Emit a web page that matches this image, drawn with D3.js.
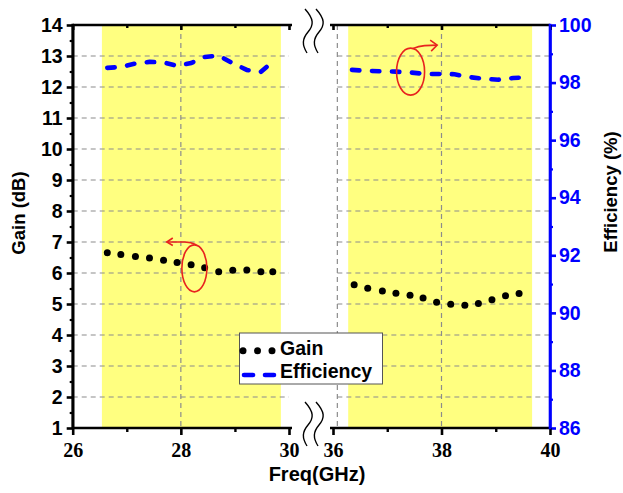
<!DOCTYPE html>
<html>
<head>
<meta charset="utf-8">
<script src="https://cdn.jsdelivr.net/npm/d3@7"></script>
<style>
  body { margin: 0; background: #fff; }
  svg { display: block; }
</style>
</head>
<body>
<svg id="chart" width="623" height="493"></svg>
<script>
// ---- data ----------------------------------------------------------
// Ka-band segment (26-30 GHz)
const freqLow  = [26.64, 26.89, 27.16, 27.42, 27.68, 27.93, 28.19, 28.44, 28.70, 28.96, 29.22, 29.48, 29.70];
const gainLow  = [6.65, 6.60, 6.53, 6.48, 6.41, 6.34, 6.27, 6.17, 6.04, 6.09, 6.10, 6.04, 6.04];
const effLow   = [98.51, 98.54, 98.66, 98.72, 98.70, 98.58, 98.68, 98.89, 98.94, 98.67, 98.44, 98.37, 98.73];

// 36-40 GHz segment
const freqHigh    = [36.39, 36.64, 36.91, 37.16, 37.42, 37.66, 37.91, 38.17, 38.43, 38.68, 38.93, 39.18, 39.43];
const gainHigh    = [5.62, 5.51, 5.42, 5.35, 5.28, 5.19, 5.06, 4.99, 4.96, 5.02, 5.14, 5.27, 5.34];
const effFreqHigh = [36.35, 36.62, 36.89, 37.16, 37.43, 37.70, 37.97, 38.24, 38.51, 38.78, 39.05, 39.32, 39.59];
const effHigh     = [98.44, 98.41, 98.39, 98.38, 98.35, 98.30, 98.30, 98.29, 98.19, 98.13, 98.10, 98.16, 98.18];

// operating bands (shaded)
const bandLow  = [26.54, 29.85];
const bandHigh = [36.28, 39.67];

// ticks
const gainTicks      = [1, 2, 3, 4, 5, 6, 7, 8, 9, 10, 11, 12, 13, 14];
const gainMinorTicks = [1.5, 2.5, 3.5, 4.5, 5.5, 6.5, 7.5, 8.5, 9.5, 10.5, 11.5, 12.5, 13.5];
const gainGrid       = [2, 3, 4, 5, 6, 7, 8, 9, 10, 11, 12, 13];
const effTicks       = [86, 88, 90, 92, 94, 96, 98, 100];
const effMinorTicks  = [87, 89, 91, 93, 95, 97, 99];
const freqTicksLow   = [26, 28, 30];
const freqMinorLow   = [27, 29];
const freqTicksHigh  = [36, 38, 40];
const freqMinorHigh  = [37, 39];
const freqGridLow    = [28];
const freqGridHigh   = [36.08, 38];

// ---- layout --------------------------------------------------------
const svg = d3.select("#chart");
const plotTop = 25, plotBottom = 428;
const xLow  = d3.scaleLinear([26, 30], [72.7, 289]);
const xHigh = d3.scaleLinear([36, 40], [333, 550]);
const yGain = d3.scaleLinear([1, 14], [plotBottom, plotTop]);
const yEff  = d3.scaleLinear([86, 100], [plotBottom, plotTop]);

const SANS = "'Liberation Sans', Arial, sans-serif";
const SERIF = "'Liberation Serif', 'Times New Roman', 'DejaVu Serif', serif";
const BLUE = "#0000ff";
const YELLOW = "#ffff80";
const RED = "#e8231f";

function font(sel, family, size, color) {
  sel.style("font-family", family).style("font-weight", "bold")
     .style("font-size", size + "px").style("fill", color);
}

svg.append("rect").attr("width", 623).attr("height", 493).attr("fill", "#fff");

// shaded bands
[[xLow, bandLow], [xHigh, bandHigh]].forEach(([x, b]) => {
  svg.append("rect")
    .attr("x", x(b[0])).attr("y", plotTop)
    .attr("width", x(b[1]) - x(b[0])).attr("height", plotBottom - plotTop)
    .attr("fill", YELLOW);
});

// grid
const grid = svg.append("g")
  .attr("stroke", "#8c8c8c").attr("stroke-width", 1.2)
  .attr("stroke-dasharray", "5,4").attr("fill", "none");
[[xLow, [26, 30], freqGridLow], [xHigh, [36.08, 40], freqGridHigh]].forEach(([x, dom, vg]) => {
  gainGrid.forEach(g => {
    grid.append("line")
      .attr("x1", x(dom[0])).attr("x2", x(dom[1]))
      .attr("y1", yGain(g)).attr("y2", yGain(g));
  });
  vg.forEach(f => {
    grid.append("line")
      .attr("x1", x(f)).attr("x2", x(f))
      .attr("y1", plotTop).attr("y2", plotBottom);
  });
});

// efficiency curves (dashed)
const effLine = (x) => d3.line().x(d => x(d[0])).y(d => yEff(d[1]));
[[xLow, freqLow, effLow], [xHigh, effFreqHigh, effHigh]].forEach(([x, f, e]) => {
  svg.append("path")
    .datum(f.map((v, i) => [v, e[i]]))
    .attr("d", effLine(x))
    .attr("fill", "none").attr("stroke", BLUE)
    .attr("stroke-width", 4.6).attr("stroke-linecap", "round")
    .attr("stroke-dasharray", "7.4,12.6");
});

// gain points
[[xLow, freqLow, gainLow], [xHigh, freqHigh, gainHigh]].forEach(([x, f, g]) => {
  svg.append("g").selectAll("circle")
    .data(f.map((v, i) => [v, g[i]]))
    .join("circle")
    .attr("cx", d => x(d[0])).attr("cy", d => yGain(d[1]))
    .attr("r", 3.5).attr("fill", "#000");
});

// ---- axes ----------------------------------------------------------
function styleAxis(g, color, width) {
  g.select(".domain").attr("stroke", color).attr("stroke-width", width);
  g.selectAll(".tick line").attr("stroke", color).attr("stroke-width", width);
}

// left gain axis
const leftAxis = svg.append("g").attr("transform", `translate(${xLow(26)},0)`)
  .call(d3.axisLeft(yGain).tickValues(gainTicks).tickSize(6).tickSizeOuter(0).tickPadding(4).tickFormat(d3.format("d")));
styleAxis(leftAxis, "#000", 2.6);
font(leftAxis.selectAll("text"), SANS, 19.5, "#000");
const leftMinor = svg.append("g").attr("transform", `translate(${xLow(26)},0)`)
  .call(d3.axisLeft(yGain).tickValues(gainMinorTicks).tickSize(3).tickSizeOuter(0).tickFormat(""));
leftMinor.select(".domain").remove();
leftMinor.selectAll(".tick line").attr("stroke", "#000").attr("stroke-width", 2.2);

// right efficiency axis
const rightAxis = svg.append("g").attr("transform", `translate(${xHigh(40)},0)`)
  .call(d3.axisRight(yEff).tickValues(effTicks).tickSize(6).tickSizeOuter(0).tickPadding(3).tickFormat(d3.format("d")));
styleAxis(rightAxis, BLUE, 2.6);
font(rightAxis.selectAll("text"), SANS, 19.5, BLUE);
const rightMinor = svg.append("g").attr("transform", `translate(${xHigh(40)},0)`)
  .call(d3.axisRight(yEff).tickValues(effMinorTicks).tickSize(3).tickSizeOuter(0).tickFormat(""));
rightMinor.select(".domain").remove();
rightMinor.selectAll(".tick line").attr("stroke", BLUE).attr("stroke-width", 2.2);

// bottom and top frequency axes for each segment
[[xLow, freqTicksLow, freqMinorLow], [xHigh, freqTicksHigh, freqMinorHigh]].forEach(([x, major, minor]) => {
  const [r0, r1] = x.range();
  // bottom
  const b = svg.append("g").attr("transform", `translate(0,${plotBottom})`)
    .call(d3.axisBottom(x).tickValues(major).tickSize(7).tickSizeOuter(0).tickPadding(8).tickFormat(d3.format("d")));
  b.select(".domain").remove();
  b.selectAll(".tick line").attr("stroke", "#000").attr("stroke-width", 2.6);
  font(b.selectAll("text"), SERIF, 20, "#000");
  const bm = svg.append("g").attr("transform", `translate(0,${plotBottom})`)
    .call(d3.axisBottom(x).tickValues(minor).tickSize(4).tickSizeOuter(0).tickFormat(""));
  bm.select(".domain").remove();
  bm.selectAll(".tick line").attr("stroke", "#000").attr("stroke-width", 2.4);
  // top (ticks pointing into the plot)
  const t = svg.append("g").attr("transform", `translate(0,${plotTop})`)
    .call(d3.axisBottom(x).tickValues(major).tickSize(5).tickSizeOuter(0).tickFormat(""));
  t.select(".domain").remove();
  t.selectAll(".tick line").attr("stroke", "#000").attr("stroke-width", 2.6);
  const tm = svg.append("g").attr("transform", `translate(0,${plotTop})`)
    .call(d3.axisBottom(x).tickValues(minor).tickSize(3).tickSizeOuter(0).tickFormat(""));
  tm.select(".domain").remove();
  tm.selectAll(".tick line").attr("stroke", "#000").attr("stroke-width", 2.4);
  // frame lines
  const ext0 = x === xLow ? r0 : r0 - 3;
  const ext1 = x === xLow ? r1 + 3 : r1;
  [plotTop, plotBottom].forEach(yy => {
    svg.append("line").attr("x1", ext0).attr("x2", ext1).attr("y1", yy).attr("y2", yy)
      .attr("stroke", "#000").attr("stroke-width", 2.6);
  });
});

// redraw axis spines on top of frame
svg.append("line").attr("x1", xLow(26)).attr("x2", xLow(26))
  .attr("y1", plotTop - 1.3).attr("y2", plotBottom + 1.3).attr("stroke", "#000").attr("stroke-width", 2.6);
svg.append("line").attr("x1", xHigh(40)).attr("x2", xHigh(40))
  .attr("y1", plotTop - 1.3).attr("y2", plotBottom + 1.3).attr("stroke", BLUE).attr("stroke-width", 2.6);

// axis break marks
const midGap = (xLow(30) + xHigh(36)) / 2;
function breakMark(x0, y0) {
  return `M${x0},${y0} C${x0 + 9},${y0 + 10} ${x0 + 9},${y0 + 16} ${x0 + 3},${y0 + 23}` +
         ` S${x0 - 3},${y0 + 36} ${x0 + 2},${y0 + 44}`;
}
[plotTop - 16, plotBottom - 26].forEach(y0 => {
  [-6, 5].forEach(dx => {
    svg.append("path").attr("d", breakMark(midGap + dx, y0))
      .attr("fill", "none").attr("stroke", "#000").attr("stroke-width", 1.4);
  });
});

// axis titles
font(svg.append("text")
  .attr("transform", `translate(24.5,${213}) rotate(-90)`)
  .attr("text-anchor", "middle").text("Gain (dB)"), SANS, 18.5, "#000");
font(svg.append("text")
  .attr("transform", `translate(617,${192}) rotate(-90)`)
  .attr("text-anchor", "middle").text("Efficiency (%)"), SANS, 18.5, "#000");
font(svg.append("text")
  .attr("x", 317).attr("y", 481)
  .attr("text-anchor", "middle").text("Freq(GHz)"), SANS, 20, "#000");

// ---- annotations (ellipse + arrow pointing to the relevant axis) -----
const ann = svg.append("g").attr("fill", "none").attr("stroke", RED).attr("stroke-width", 1.6);
// gain -> left axis
{
  const cx = xLow(28.25), cy = yGain(6.15);
  ann.append("ellipse").attr("cx", cx).attr("cy", cy).attr("rx", 12.5).attr("ry", 23.5);
  const tipX = xLow(27.74), tipY = yGain(7.0);
  ann.append("path")
    .attr("d", `M${cx + 2},${cy - 23.5} Q${cx - 4},${tipY - 0.5} ${cx - 12},${tipY} L${tipX},${tipY}`);
  ann.append("path")
    .attr("d", `M${tipX + 6},${tipY - 4} L${tipX},${tipY} L${tipX + 6},${tipY + 3.5}`);
}
// efficiency -> right axis
{
  const cx = xHigh(37.43), cy = yEff(98.38);
  ann.append("ellipse").attr("cx", cx).attr("cy", cy).attr("rx", 14).attr("ry", 23.5);
  const tipX = xHigh(37.92), tipY = yEff(99.3);
  ann.append("path")
    .attr("d", `M${cx + 2},${cy - 23} Q${cx + 8},${tipY + 1} ${cx + 14},${tipY + 0.5} L${tipX},${tipY}`);
  ann.append("path")
    .attr("d", `M${tipX - 7},${tipY - 5} L${tipX},${tipY} L${tipX - 6},${tipY + 6}`);
}

// ---- legend --------------------------------------------------------
const lg = svg.append("g");
lg.append("rect").attr("x", 239.5).attr("y", 333).attr("width", 143).attr("height", 51)
  .attr("fill", "#fff").attr("stroke", "#555").attr("stroke-width", 1);
lg.selectAll("circle").data([243, 257.5, 272]).join("circle")
  .attr("cx", d => d).attr("cy", 350.7).attr("r", 3.5).attr("fill", "#000");
lg.append("line").attr("x1", 244).attr("x2", 274).attr("y1", 375).attr("y2", 375)
  .attr("stroke", BLUE).attr("stroke-width", 4.6).attr("stroke-linecap", "round")
  .attr("stroke-dasharray", "9,12");
font(lg.append("text").attr("x", 280).attr("y", 354.5).text("Gain"), SANS, 19.5, "#000");
font(lg.append("text").attr("x", 280).attr("y", 378).text("Efficiency"), SANS, 19.5, "#000");
</script>
</body>
</html>
